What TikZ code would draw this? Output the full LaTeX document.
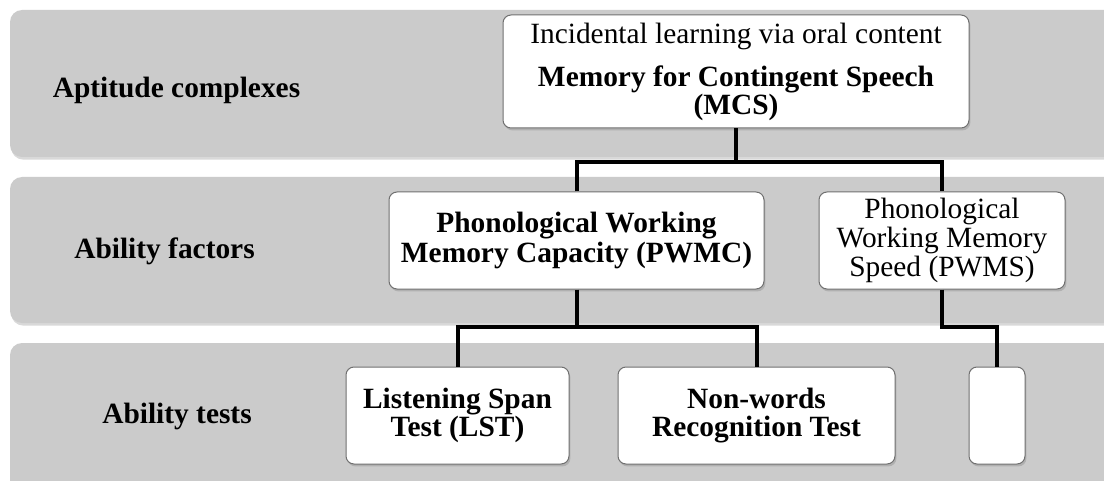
\documentclass[tikz,border=0pt]{standalone}
\usepackage{fontspec}
\setmainfont{Liberation Serif}
\usetikzlibrary{shadows}
\definecolor{bandgray}{HTML}{CBCBCB}
\definecolor{edgegray}{HTML}{707070}
\begin{document}
\begin{tikzpicture}[x=0.5pt,y=-0.5pt,
  band/.style={fill=bandgray, rounded corners=6pt,
    drop shadow={shadow xshift=0.6pt, shadow yshift=-1.3pt, opacity=0.3}},
  box/.style={draw=edgegray, line width=0.5pt, fill=white, rounded corners=4pt,
    align=center, inner sep=0pt, font=\fontsize{14.7}{14.5}\selectfont,
    drop shadow={shadow xshift=0.7pt, shadow yshift=-1.2pt, opacity=0.35}},
  lbl/.style={font=\fontsize{14.7}{14.5}\selectfont\bfseries, anchor=base, inner sep=0pt},
  link/.style={line width=2pt, draw=black}]
\useasboundingbox (0,0) rectangle (1104,481);
\clip (0,0) rectangle (1104,481);

% level bands
\path[band] (10,10) rectangle (1125,157);
\path[band] (10,177) rectangle (1125,323);
\path[band] (10,343) rectangle (1125,495);

% level labels
\node[lbl] (l1) at (176.5,98) {Aptitude complexes};
\node[lbl] (l2) at (164.5,258) {Ability factors};
\node[lbl] (l3) at (177,423) {Ability tests};

% junctions of the connectors
\coordinate (j1) at (736,162);
\coordinate (j2) at (576.5,327);
\coordinate (j3) at (942,327);

% boxes
\node[box, minimum width=233pt, minimum height=56.5pt,
      font=\fontsize{14.7}{14}\selectfont] (mcs) at (736,71.5)
  {Incidental learning via oral content\\[7.5pt]\textbf{Memory for Contingent Speech}\\\textbf{(MCS)}};
\node[box, minimum width=187.5pt, minimum height=48.5pt, font=\fontsize{14.7}{15}\selectfont\bfseries] (pwmc) at (576.5,240.5)
  {Phonological Working\\Memory Capacity (PWMC)};
\node[box, minimum width=123pt, minimum height=48.5pt] (pwms) at (942,240.5)
  {Phonological\\Working Memory\\Speed (PWMS)};
\node[box, minimum width=111.5pt, minimum height=48.5pt, font=\fontsize{14.7}{14}\selectfont\bfseries] (lst) at (457.5,415.5)
  {Listening Span\\Test (LST)};
\node[box, minimum width=138.5pt, minimum height=48.5pt, font=\fontsize{14.7}{14}\selectfont\bfseries] (nwrt) at (756.5,415.5)
  {Non-words\\Recognition Test};
\node[box, minimum width=28pt, minimum height=48.5pt] (blank) at (997,415.5) {};

% connectors
\draw[link] (mcs.south) -- (j1);
\draw[link] (pwmc.north) |- (j1) -| (pwms.north);
\draw[link] (pwmc.south) -- (j2);
\draw[link] (lst.north) |- (j2) -| (nwrt.north);
\draw[link] (pwms.south) -- (j3) -| (blank.north);
\end{tikzpicture}
\end{document}
